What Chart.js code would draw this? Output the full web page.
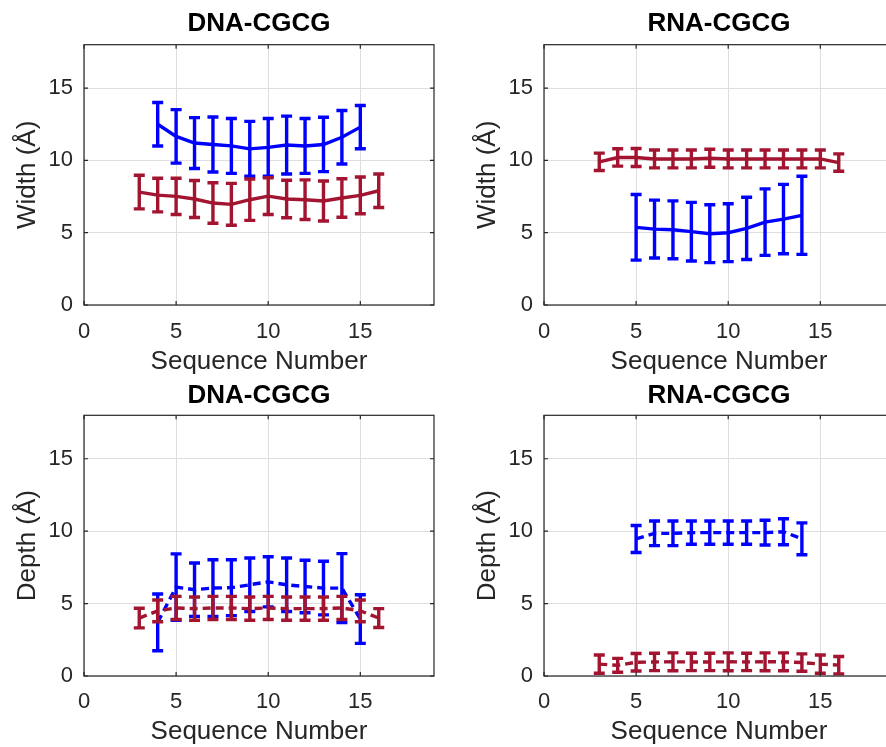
<!DOCTYPE html>
<html>
<head>
<meta charset="utf-8">
<script src="https://cdn.jsdelivr.net/npm/chart.js@4.4.1/dist/chart.umd.min.js"></script>
<style>
    html, body { margin: 0; padding: 0; width: 886px; height: 747px; overflow: hidden; background: #fff; }
    .panel { position: absolute; }
</style>
</head>
<body>
<div class="panel" style="left:0;top:0"><canvas id="c1" width="443" height="380"></canvas></div>
<div class="panel" style="left:460px;top:0"><canvas id="c2" width="443" height="380"></canvas></div>
<div class="panel" style="left:0;top:380px"><canvas id="c3" width="443" height="367"></canvas></div>
<div class="panel" style="left:460px;top:380px"><canvas id="c4" width="443" height="367"></canvas></div>

<script>
/*** DATA ***/
const majorDnaSeq = [4, 5, 6, 7, 8, 9, 10, 11, 12, 13, 14, 15];
const majorRnaSeq = [5, 6, 7, 8, 9, 10, 11, 12, 13, 14];
const minorSeq    = [3, 4, 5, 6, 7, 8, 9, 10, 11, 12, 13, 14, 15, 16];

const xTicks = [0, 5, 10, 15];
const yTicks = [0, 5, 10, 15];

const panelTitles = ["DNA-CGCG", "RNA-CGCG", "DNA-CGCG", "RNA-CGCG"];
const yLabels = ["Width (Å)", "Width (Å)", "Depth (Å)", "Depth (Å)"];
const xLabel = "Sequence Number";

// width, DNA
const dnaMajorWidth    = [12.5, 11.66, 11.2, 11.1, 11.0, 10.8, 10.9, 11.06, 11.0, 11.1, 11.6, 12.3];
const dnaMajorWidthErr = [1.5, 1.85, 1.76, 1.9, 1.9, 1.9, 2.0, 2.0, 1.9, 1.88, 1.85, 1.5];
const dnaMinorWidth    = [7.81, 7.6, 7.51, 7.33, 7.05, 6.96, 7.28, 7.53, 7.33, 7.28, 7.19, 7.4, 7.58, 7.9];
const dnaMinorWidthErr = [1.16, 1.16, 1.25, 1.28, 1.4, 1.45, 1.43, 1.27, 1.3, 1.37, 1.38, 1.33, 1.27, 1.16];

// width, RNA
const rnaMajorWidth    = [5.37, 5.25, 5.2, 5.07, 4.93, 5.0, 5.3, 5.73, 5.94, 6.2];
const rnaMajorWidthErr = [2.27, 2.0, 2.0, 2.03, 2.0, 2.0, 2.15, 2.3, 2.4, 2.7];
const rnaMinorWidth    = [9.9, 10.2, 10.2, 10.1, 10.1, 10.1, 10.15, 10.1, 10.1, 10.1, 10.1, 10.1, 10.1, 9.85];
const rnaMinorWidthErr = [0.6, 0.6, 0.62, 0.62, 0.62, 0.62, 0.62, 0.62, 0.62, 0.62, 0.62, 0.62, 0.62, 0.6];

// depth, DNA
const dnaMajorDepth    = [3.7, 6.14, 5.96, 6.07, 6.1, 6.3, 6.5, 6.3, 6.18, 6.07, 6.07, 3.93];
const dnaMajorDepthErr = [1.96, 2.29, 1.84, 1.96, 1.93, 1.85, 1.73, 1.85, 1.81, 1.85, 2.38, 1.68];
const dnaMinorDepth    = [4.0, 4.5, 4.7, 4.65, 4.7, 4.7, 4.65, 4.7, 4.65, 4.65, 4.65, 4.7, 4.5, 4.0];
const dnaMinorDepthErr = [0.68, 0.75, 0.8, 0.8, 0.8, 0.8, 0.8, 0.8, 0.8, 0.8, 0.8, 0.8, 0.75, 0.65];

// depth, RNA
const rnaMajorDepth    = [9.46, 9.85, 9.85, 9.9, 9.9, 9.9, 9.9, 9.9, 9.96, 9.47];
const rnaMajorDepthErr = [0.93, 0.85, 0.85, 0.8, 0.8, 0.8, 0.8, 0.85, 0.9, 1.1];
const rnaMinorDepth    = [0.82, 0.74, 0.95, 0.97, 0.98, 0.97, 0.97, 0.98, 0.97, 0.98, 0.98, 0.93, 0.82, 0.75];
const rnaMinorDepthErr = [0.63, 0.48, 0.6, 0.6, 0.62, 0.6, 0.6, 0.62, 0.6, 0.62, 0.62, 0.6, 0.63, 0.6];

/*** STYLE ***/
const BLUE = "#0000ff";
const RED = "#a2142f";
const TEXT = "#262626";
const FONT = "'Liberation Sans', Arial, Helvetica, sans-serif";

/* -------------------------------------------------------------
   error bars + matlab style box
-------------------------------------------------------------- */
const errorBarPlugin = {
    id: "errorBars",
    afterDatasetDraw(chart, args) {
        const ds = chart.data.datasets[args.index];
        if (!ds.errorBars) return;
        const ctx = chart.ctx;
        const yScale = chart.scales.y;
        ctx.save();
        ctx.strokeStyle = ds.borderColor;
        ctx.lineWidth = 3.4;
        ctx.setLineDash([]);
        args.meta.data.forEach((pt, i) => {
            const v = ds.data[i].y;
            const e = ds.errorBars[i];
            const top = yScale.getPixelForValue(v + e);
            const bot = yScale.getPixelForValue(v - e);
            ctx.beginPath();
            ctx.moveTo(pt.x, top); ctx.lineTo(pt.x, bot);
            ctx.moveTo(pt.x - 5.5, top); ctx.lineTo(pt.x + 5.5, top);
            ctx.moveTo(pt.x - 5.5, bot); ctx.lineTo(pt.x + 5.5, bot);
            ctx.stroke();
        });
        ctx.restore();
    }
};

const boxPlugin = {
    id: "box",
    afterDraw(chart) {
        const { ctx, chartArea: a, scales } = chart;
        ctx.save();
        ctx.strokeStyle = TEXT;
        ctx.lineWidth = 1.2;
        ctx.strokeRect(a.left, a.top, a.right - a.left, a.bottom - a.top);
        ctx.beginPath();
        scales.x.ticks.forEach(t => {
            const px = scales.x.getPixelForValue(t.value);
            ctx.moveTo(px, a.bottom); ctx.lineTo(px, a.bottom - 4);
            ctx.moveTo(px, a.top); ctx.lineTo(px, a.top + 4);
        });
        scales.y.ticks.forEach(t => {
            const py = scales.y.getPixelForValue(t.value);
            ctx.moveTo(a.left, py); ctx.lineTo(a.left + 4, py);
            ctx.moveTo(a.right, py); ctx.lineTo(a.right - 4, py);
        });
        ctx.stroke();
        ctx.restore();
    }
};

function pts(xs, ys) {
    return xs.map((x, i) => ({ x: x, y: ys[i] }));
}

function makePanel(id, idx, series, dashed, topRow) {
    const datasets = series.map(s => ({
        data: pts(s.x, s.y),
        errorBars: s.err,
        borderColor: s.color,
        borderWidth: 3.4,
        borderDash: dashed ? [8, 5] : [],
        pointRadius: 0,
        tension: 0,
        fill: false
    }));

    new Chart(document.getElementById(id).getContext("2d"), {
        type: "line",
        data: { datasets: datasets },
        plugins: [errorBarPlugin, boxPlugin],
        options: {
            responsive: false,
            animation: false,
            layout: { padding: { left: 0, right: 9, top: 0, bottom: 0 } },
            plugins: {
                legend: { display: false },
                tooltip: { enabled: false },
                title: {
                    display: true,
                    fullSize: false,
                    text: panelTitles[idx],
                    color: "#000",
                    font: { family: FONT, size: 26, weight: "bold", lineHeight: 1.2 },
                    padding: topRow ? { top: 8.5, bottom: 5 } : { top: 0.5, bottom: 3.6 }
                }
            },
            scales: {
                x: {
                    type: "linear",
                    min: 0,
                    max: 19,
                    afterBuildTicks: s => { s.ticks = xTicks.map(v => ({ value: v })); },
                    afterFit: s => { s.height = topRow ? 75 : 71; },
                    grid: { color: "#dedede", lineWidth: 1, drawTicks: false },
                    border: { display: false },
                    ticks: { color: TEXT, padding: topRow ? 14 : 13, font: { family: FONT, size: 22 } },
                    title: {
                        display: true,
                        text: xLabel,
                        color: TEXT,
                        font: { family: FONT, size: 26, lineHeight: 1.15 },
                        padding: { top: 0, bottom: topRow ? 3 : 0 }
                    }
                },
                y: {
                    min: 0,
                    max: 18,
                    afterBuildTicks: s => { s.ticks = yTicks.map(v => ({ value: v })); },
                    afterFit: s => { s.width = 84; },
                    grid: { color: "#dedede", lineWidth: 1, drawTicks: false },
                    border: { display: false },
                    ticks: { color: TEXT, padding: 11, font: { family: FONT, size: 22 } },
                    title: {
                        display: true,
                        text: yLabels[idx],
                        color: TEXT,
                        font: { family: FONT, size: 26, lineHeight: 1.15 },
                        padding: { top: 13, bottom: 0 }
                    }
                }
            }
        }
    });
}

// red listed first so it sits on top of blue
makePanel("c1", 0, [
    { x: minorSeq, y: dnaMinorWidth, err: dnaMinorWidthErr, color: RED },
    { x: majorDnaSeq, y: dnaMajorWidth, err: dnaMajorWidthErr, color: BLUE }
], false, true);

makePanel("c2", 1, [
    { x: minorSeq, y: rnaMinorWidth, err: rnaMinorWidthErr, color: RED },
    { x: majorRnaSeq, y: rnaMajorWidth, err: rnaMajorWidthErr, color: BLUE }
], false, true);

makePanel("c3", 2, [
    { x: minorSeq, y: dnaMinorDepth, err: dnaMinorDepthErr, color: RED },
    { x: majorDnaSeq, y: dnaMajorDepth, err: dnaMajorDepthErr, color: BLUE }
], true, false);

makePanel("c4", 3, [
    { x: minorSeq, y: rnaMinorDepth, err: rnaMinorDepthErr, color: RED },
    { x: majorRnaSeq, y: rnaMajorDepth, err: rnaMajorDepthErr, color: BLUE }
], true, false);
</script>
</body>
</html>
